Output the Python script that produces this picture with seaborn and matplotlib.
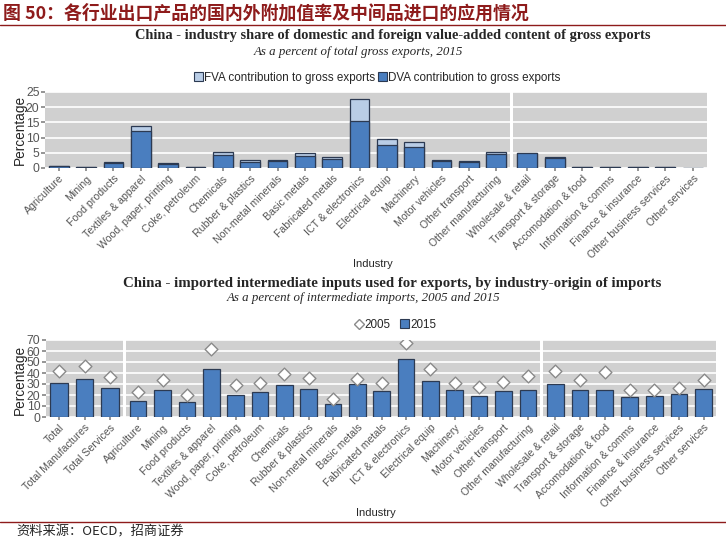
import matplotlib
matplotlib.use("Agg")
import matplotlib.pyplot as plt
import seaborn as sns
import pandas as pd
from matplotlib.patches import Patch
from matplotlib.lines import Line2D

# ---------------- data ----------------
manuf = ["Agriculture", "Mining", "Food products", "Textiles & apparel",
         "Wood, paper, printing", "Coke, petroleum", "Chemicals",
         "Rubber & plastics", "Non-metal minerals", "Basic metals",
         "Fabricated metals", "ICT & electronics", "Electrical equip",
         "Machinery", "Motor vehicles", "Other transport", "Other manufacturing"]
serv = ["Wholesale & retail", "Transport & storage", "Accomodation & food",
        "Information & comms", "Finance & insurance", "Other business services",
        "Other services"]
totals = ["Total", "Total Manufactures", "Total Services"]

# top chart: share of gross exports (%), 2015
dva_manuf = [0.6, 0.25, 1.8, 12.3, 1.3, 0.35, 4.4, 2.1, 2.3, 4.0, 3.0, 15.6, 7.6, 6.9, 2.2, 1.9, 4.5]
fva_manuf = [0.2, 0.05, 0.2, 1.4, 0.3, 0.1, 0.9, 0.6, 0.2, 1.0, 0.7, 7.0, 1.8, 1.5, 0.3, 0.3, 0.9]
dva_serv = [4.8, 3.3, 0.2, 0.2, 0.2, 0.4, 0.1]
fva_serv = [0.2, 0.2, 0.05, 0.05, 0.05, 0.05, 0.02]

# bottom chart: imported intermediates used for exports (%)
imp2015_tot = [30.8, 35.0, 26.3]
imp2005_tot = [42.2, 46.8, 36.5]
imp2015_manuf = [14.8, 25.0, 13.3, 43.8, 19.9, 22.9, 28.7, 25.6, 11.4, 29.9, 23.2, 52.8, 32.9, 25.0, 19.0, 23.8, 24.4]
imp2005_manuf = [22.9, 33.2, 19.6, 62.2, 28.7, 30.8, 38.9, 35.3, 16.6, 35.0, 30.8, 67.6, 43.8, 30.8, 27.7, 31.7, 37.1]
imp2015_serv = [30.4, 24.1, 24.4, 18.4, 18.7, 20.5, 25.9]
imp2005_serv = [42.2, 33.2, 40.7, 24.7, 24.4, 26.3, 34.0]

# ---------------- style ----------------
sns.set_theme(style="white")
plt.rcParams["font.family"] = ["Liberation Sans", "Noto Sans CJK SC", "DejaVu Sans"]

W, H = 726, 541
DVA_C = "#4A7EBF"
FVA_C = "#B9CDE6"
EDGE = "#2C3A52"
BG = "#D0D0D0"
TICKC = "#555555"
RED = "#8E1B1B"

fig = plt.figure(figsize=(W / 100, H / 100), dpi=100)


def fx(px):
    return px / W


def fy(py):
    return 1 - py / H


def make_ax(x0, x1, y0, y1):
    return fig.add_axes([fx(x0), fy(y1), fx(x1 - x0), (y1 - y0) / H])


def style_ax(ax, labels, ymax, ystep, show_y):
    ax.set_facecolor(BG)
    for s in ax.spines.values():
        s.set_visible(False)
    ax.set_ylim(0, ymax)
    ax.set_xlim(-0.5, len(labels) - 0.5)
    ax.set_yticks(range(0, ymax + 1, ystep))
    ax.yaxis.grid(True, color="white", linewidth=1.2)
    ax.set_axisbelow(True)
    ax.set_xlabel("")
    ax.set_ylabel("")
    ax.set_xticks(range(len(labels)))
    ax.set_xticklabels(labels, rotation=45, ha="right", rotation_mode="anchor",
                       fontsize=7.6, color=TICKC)
    ax.tick_params(axis="x", length=2, color="#888888", pad=2, bottom=True)
    if show_y:
        ax.tick_params(axis="y", length=3, color="#888888", pad=1,
                       labelsize=8.8, labelcolor=TICKC, left=True)
    else:
        ax.tick_params(axis="y", left=False, labelleft=False)


def top_panel(ax, cats, dva, fva, show_y):
    df = pd.DataFrame({"industry": cats, "dva": dva,
                       "total": [d + f for d, f in zip(dva, fva)]})
    sns.barplot(data=df, x="industry", y="total", color=FVA_C, saturation=1,
                edgecolor=EDGE, linewidth=0.9, width=0.72, ax=ax)
    sns.barplot(data=df, x="industry", y="dva", color=DVA_C, saturation=1,
                edgecolor=EDGE, linewidth=0.9, width=0.72, ax=ax)
    style_ax(ax, cats, 25, 5, show_y)


def bottom_panel(ax, cats, v15, v05, show_y):
    df = pd.DataFrame({"industry": cats, "y2015": v15, "y2005": v05})
    sns.barplot(data=df, x="industry", y="y2015", color=DVA_C, saturation=1,
                edgecolor=EDGE, linewidth=0.9, width=0.68, ax=ax)
    sns.stripplot(data=df, x="industry", y="y2005", jitter=False, marker="D",
                  color="white", edgecolor="#8A8A8A", linewidth=1.0, size=6.5,
                  ax=ax, zorder=5)
    style_ax(ax, cats, 70, 10, show_y)


# ---------------- header ----------------
fig.text(fx(3), fy(13), "图 50：各行业出口产品的国内外附加值率及中间品进口的应用情况",
         fontsize=12.9, fontweight="bold", color=RED, va="center", ha="left",
         family=["Noto Sans CJK SC", "DejaVu Sans"])
fig.add_artist(Line2D([0, 1], [fy(24.5), fy(24.5)], color=RED, linewidth=1.0))

# ---------------- top chart ----------------
fig.text(fx(393), fy(36), "China - industry share of domestic and foreign value-added content of gross exports",
         fontsize=10.4, fontweight="bold", family="Liberation Serif", ha="center", va="center")
fig.text(fx(358), fy(52), "As a percent of total gross exports, 2015",
         fontsize=9.3, style="italic", family="Liberation Serif", ha="center", va="center")

ax1 = make_ax(45, 510, 92, 168)
ax2 = make_ax(513, 707, 92, 168)
top_panel(ax1, manuf, dva_manuf, fva_manuf, True)
top_panel(ax2, serv, dva_serv, fva_serv, False)

handles = [Patch(facecolor=FVA_C, edgecolor=EDGE, linewidth=0.8, label="FVA contribution to gross exports"),
           Patch(facecolor=DVA_C, edgecolor=EDGE, linewidth=0.8, label="DVA contribution to gross exports")]
fig.legend(handles=handles, loc="center", bbox_to_anchor=(fx(377), fy(78)), ncol=2,
           frameon=False, fontsize=8.4, handlelength=0.8, handleheight=0.8,
           handletextpad=0.1, columnspacing=0.2, borderpad=0)
fig.text(fx(20), fy(130), "Percentage", rotation=90, fontsize=9.8, ha="center", va="center")
fig.text(fx(373), fy(264), "Industry", fontsize=8, ha="center", va="center")

# ---------------- bottom chart ----------------
fig.text(fx(392), fy(283), "China - imported intermediate inputs used for exports, by industry-origin of imports",
         fontsize=10.7, fontweight="bold", family="Liberation Serif", ha="center", va="center")
fig.text(fx(364), fy(298), "As a percent of intermediate imports, 2005 and 2015",
         fontsize=9.3, style="italic", family="Liberation Serif", ha="center", va="center")

bx1 = make_ax(46, 123, 340, 417)
bx2 = make_ax(126, 540, 340, 417)
bx3 = make_ax(543, 716, 340, 417)
bottom_panel(bx1, totals, imp2015_tot, imp2005_tot, True)
bottom_panel(bx2, manuf, imp2015_manuf, imp2005_manuf, False)
bottom_panel(bx3, serv, imp2015_serv, imp2005_serv, False)

handles2 = [Line2D([], [], marker="D", linestyle="none", markerfacecolor="white",
                   markeredgecolor="#8A8A8A", markersize=5.5, label="2005"),
            Patch(facecolor=DVA_C, edgecolor=EDGE, linewidth=0.8, label="2015")]
fig.legend(handles=handles2, loc="center", bbox_to_anchor=(fx(395), fy(325)), ncol=2,
           frameon=False, fontsize=8.4, handlelength=0.8, handleheight=0.8,
           handletextpad=0.1, columnspacing=0.8, borderpad=0)
fig.text(fx(20), fy(380), "Percentage", rotation=90, fontsize=9.8, ha="center", va="center")
fig.text(fx(376), fy(513), "Industry", fontsize=8, ha="center", va="center")

# ---------------- footer ----------------
fig.add_artist(Line2D([0, 1], [fy(522), fy(522)], color=RED, linewidth=1.0))
fig.text(fx(16), fy(532), "资料来源：OECD，招商证券", fontsize=9.5, ha="left", va="center",
         family=["Noto Sans CJK SC", "DejaVu Sans"])

fig.savefig("out.png", dpi=100, facecolor="white")
